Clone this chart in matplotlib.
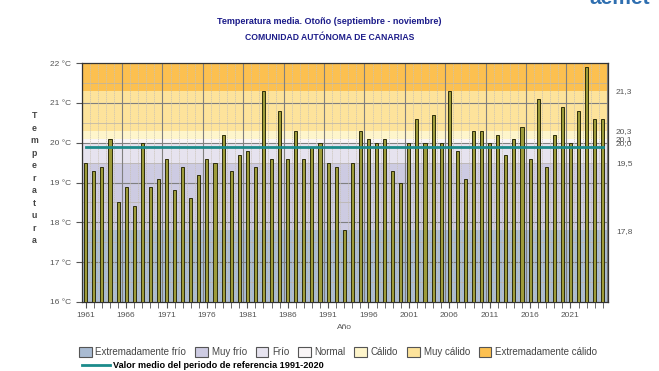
import matplotlib
matplotlib.use("Agg")
import matplotlib.pyplot as plt
from matplotlib.patches import Patch
from matplotlib.lines import Line2D
import numpy as np

plt.rcParams.update({"font.family": ["Liberation Sans", "DejaVu Sans"],
                     "font.size": 6})

# ---------------- data ----------------
years = np.arange(1961, 2026)
temps = [19.5, 19.3, 19.4, 20.1, 18.5, 18.9, 18.4, 20.0, 18.9, 19.1,
         19.6, 18.8, 19.4, 18.6, 19.2, 19.6, 19.5, 20.2, 19.3, 19.7,
         19.8, 19.4, 21.3, 19.6, 20.8, 19.6, 20.3, 19.6, 19.9, 20.0,
         19.5, 19.4, 17.8, 19.5, 20.3, 20.1, 20.0, 20.1, 19.3, 19.0,
         20.0, 20.6, 20.0, 20.7, 20.0, 21.3, 19.8, 19.1, 20.3, 20.3,
         20.0, 20.2, 19.7, 20.1, 20.4, 19.6, 21.1, 19.4, 20.2, 20.9,
         20.0, 20.8, 21.9, 20.6, 20.6]
ref_mean = 19.9
thresholds = [17.8, 19.5, 20.0, 20.1, 20.3, 21.3]
threshold_labels = ["17,8", "19,5", "20,0", "20,1", "20,3", "21,3"]
class_names = ["Extremadamente frío", "Muy frío", "Frío", "Normal",
               "Cálido", "Muy cálido", "Extremadamente cálido"]
class_colors = ["#a9bbd2", "#cdcbe2", "#e6e3ef", "#f9f5f6",
                "#fef5cb", "#fde39b", "#fcc050"]
ymin, ymax = 16, 22

GREY_TXT = "#555555"
NAVY = "#1c1c8a"
TEAL = "#1b8b8b"

fig = plt.figure(figsize=(6.59, 3.71), dpi=100)
ax = fig.add_axes([0.124, 0.186, 0.798, 0.644])

# category bands
edges = [ymin] + thresholds + [ymax]
for lo, hi, c in zip(edges[:-1], edges[1:], class_colors):
    ax.axhspan(lo, hi, color=c, lw=0, zorder=0)

# grid
for y in np.arange(ymin + 0.5, ymax, 0.5):
    major = float(y).is_integer()
    ax.axhline(y, color="#808080" if major else "#b8b2a8",
               lw=0.8 if major else 0.5, zorder=1)
for x in np.arange(1960.5, 2026, 1.0):
    major = (x - 1960.5) % 5 == 0
    ax.axvline(x, color="#808080" if major else "#c8c2b6",
               lw=0.8 if major else 0.5, ls="-" if major else (0, (2, 1)), zorder=1)

ax.bar(years, np.array(temps) - ymin, bottom=ymin, width=0.38,
       color="#9d9b3a", edgecolor="#2e2e0c", lw=0.7, zorder=3)
ax.plot([years[0], years[-1]], [ref_mean, ref_mean], color=TEAL,
        lw=2, zorder=4)

ax.set_xlim(1960.5, 2025.6)
ax.set_ylim(ymin, ymax)
ax.set_yticks(np.arange(ymin, ymax + 1))
ax.set_yticklabels([f"{v} °C" for v in range(ymin, ymax + 1)], color=GREY_TXT)
ax.set_xticks(years, minor=True)
ax.set_xticks(years[::5])
ax.set_xticklabels([str(y) for y in years[::5]], color=GREY_TXT)
ax.tick_params(axis="x", which="both", length=4, color=GREY_TXT)
ax.tick_params(axis="y", length=4, color=GREY_TXT)
for s in ax.spines.values():
    s.set_color("#333333")
    s.set_linewidth(0.9)
ax.set_xlabel("Año", color=GREY_TXT, fontsize=6, labelpad=3)

# right side threshold labels
ax2 = ax.twinx()
ax2.set_ylim(ymin, ymax)
ax2.set_yticks(thresholds)
ax2.set_yticklabels(threshold_labels, color=GREY_TXT)
ax2.tick_params(length=0, pad=6)
for s in ax2.spines.values():
    s.set_visible(False)

# stacked y label
fig.text(0.052, 0.700, "\n".join("Temperatura"), ha="center", va="top",
         fontsize=6.3, color="#444444", fontweight="bold", linespacing=1.5)

# titles
fig.text(0.5, 0.941, "Temperatura media. Otoño (septiembre - noviembre)",
         ha="center", va="center", fontsize=6.5, fontweight="bold", color=NAVY)
fig.text(0.5, 0.900, "COMUNIDAD AUTÓNOMA DE CANARIAS", ha="center",
         va="center", fontsize=6.2, fontweight="bold", color=NAVY)
fig.text(0.895, 1.005, "aemet", ha="left", va="center", fontsize=15,
         fontweight="bold", color="#2f6fb0")

# legend
handles = [Patch(facecolor=c, edgecolor="#555555", lw=0.8) for c in class_colors]
fig.legend(handles, class_names, loc="center", bbox_to_anchor=(0.513, 0.051),
           ncol=7, frameon=False, fontsize=7, handlelength=1.3,
           handleheight=1.3, handletextpad=0.4, columnspacing=0.9,
           labelcolor="#444444")
fig.legend([Line2D([], [], color=TEAL, lw=2)],
           ["Valor medio del periodo de referencia 1991-2020"],
           loc="center left", bbox_to_anchor=(0.112, 0.014),
           frameon=False, handlelength=3.0, handletextpad=0.4,
           prop={"weight": "bold", "size": 6.6})

fig.savefig("out.png", dpi=100)
